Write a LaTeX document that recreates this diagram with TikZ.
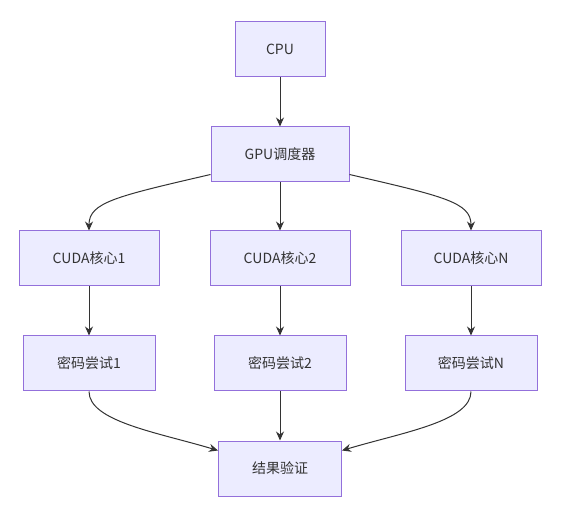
\documentclass[tikz,border=0pt]{standalone}
\usepackage{fontspec}
\setmainfont{Noto Sans CJK SC}
\usepackage{xcolor}
\usetikzlibrary{arrows.meta, positioning}
\definecolor{boxfill}{HTML}{ECECFF}
\definecolor{boxline}{HTML}{9370DB}
\definecolor{edgeline}{HTML}{333333}
\begin{document}
\begin{tikzpicture}[
    box/.style={draw=boxline, fill=boxfill, line width=1pt, rectangle, minimum height=55pt, text=edgeline, font=\fontsize{14pt}{16pt}\selectfont},
    flow/.style={draw=edgeline, line width=1pt, -{Stealth[length=9pt, width=8pt]}}
  ]
    \useasboundingbox (0,0) rectangle (568pt,-521pt);

    % Nodes
    \node[box, minimum width=90pt] (CPU) at (280pt,-49.5pt) {CPU};
    \node[box, minimum width=138pt, below=49pt of CPU] (Sched) {GPU调度器};
    \node[box, minimum width=140pt, below=48pt of Sched] (Core2) {CUDA核心2};
    \node[box, minimum width=140pt, left=50pt of Core2] (Core1) {CUDA核心1};
    \node[box, minimum width=140pt, right=50pt of Core2] (CoreN) {CUDA核心N};
    \node[box, minimum width=132pt, below=49pt of Core1] (Try1) {密码尝试1};
    \node[box, minimum width=132pt, below=49pt of Core2] (Try2) {密码尝试2};
    \node[box, minimum width=132pt, below=49pt of CoreN] (TryN) {密码尝试N};
    \node[box, minimum width=123pt, below=49pt of Try2] (Check) {结果验证};

    % Edges
    \draw[flow] (CPU) -- (Sched);
    \draw[flow] ([yshift=8pt]Sched.south west) .. controls +(-95pt,-22pt) and +(0pt,28pt) .. (Core1.north);
    \draw[flow] (Sched) -- (Core2);
    \draw[flow] ([yshift=8pt]Sched.south east) .. controls +(95pt,-22pt) and +(0pt,28pt) .. (CoreN.north);
    \draw[flow] (Core1) -- (Try1);
    \draw[flow] (Core2) -- (Try2);
    \draw[flow] (CoreN) -- (TryN);
    \draw[flow] (Try1.south) .. controls +(0pt,-30pt) and +(-60pt,18pt) .. ([yshift=-10pt]Check.north west);
    \draw[flow] (Try2) -- (Check);
    \draw[flow] (TryN.south) .. controls +(0pt,-30pt) and +(60pt,18pt) .. ([yshift=-10pt]Check.north east);
\end{tikzpicture}
\end{document}
